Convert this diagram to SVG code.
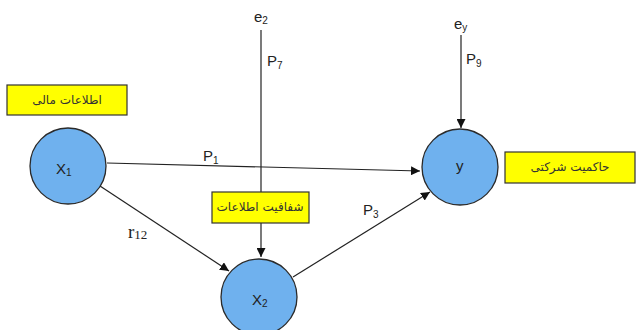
<svg xmlns="http://www.w3.org/2000/svg" width="637" height="330" viewBox="0 0 637 330">
<defs>
<marker id="ah" viewBox="0 0 10 10" refX="10" refY="5" markerWidth="9" markerHeight="9" markerUnits="userSpaceOnUse" orient="auto">
<path d="M0,0 L10,5 L0,10 z" fill="#111"/>
</marker>
<style>
.node{fill:#6fb1ee;stroke:#2a2a2a;stroke-width:1.3}
.box{fill:#ffff00;stroke:#333;stroke-width:1.2}
.edge{stroke:#222;stroke-width:1.2;fill:none}
.lbl{font-family:"Liberation Sans",Arial,sans-serif;font-size:15px;fill:#222}
.sub{font-size:10px}
.ar{font-family:"DejaVu Sans","Noto Sans",sans-serif;font-size:12px;fill:#333}
</style>
</defs>
<rect width="637" height="330" fill="#fff"/>
<g id="connectors">
<line class="edge" x1="107" y1="163" x2="420" y2="171" marker-end="url(#ah)"/>
<line class="edge" x1="100" y1="186" x2="229" y2="271" marker-end="url(#ah)"/>
<line class="edge" x1="293" y1="277" x2="430" y2="192" marker-end="url(#ah)"/>
<line class="edge" x1="261" y1="30" x2="261" y2="192"/>
<line class="edge" x1="261" y1="223" x2="261" y2="257" marker-end="url(#ah)"/>
<line class="edge" x1="461" y1="35" x2="461" y2="128" marker-end="url(#ah)"/>
</g>
<g id="label-p1"><text class="lbl" x="203" y="161">P<tspan class="sub" dy="3">1</tspan></text></g>
<g id="label-r12"><text x="128" y="238" font-family="Liberation Serif,serif" font-size="19" fill="#222">r<tspan font-size="13" dy="1">12</tspan></text></g>
<g id="label-p3"><text class="lbl" x="363" y="215">P<tspan class="sub" dy="3">3</tspan></text></g>
<g id="label-p7"><text class="lbl" x="267" y="66">P<tspan class="sub" dy="3">7</tspan></text></g>
<g id="label-p9"><text class="lbl" x="466" y="64">P<tspan class="sub" dy="3">9</tspan></text></g>
<g id="e2"><text class="lbl" x="254" y="22">e<tspan class="sub" dy="2">2</tspan></text></g>
<g id="ey"><text class="lbl" x="454" y="29">e<tspan class="sub" dy="2">y</tspan></text></g>
<g id="X1">
<circle class="node" cx="68" cy="166" r="38"/>
<text class="lbl" x="56" y="174">X<tspan class="sub" dy="2">1</tspan></text>
</g>
<g id="X2">
<circle class="node" cx="259" cy="297" r="38"/>
<text class="lbl" x="252" y="305">X<tspan class="sub" dy="2">2</tspan></text>
</g>
<g id="Y">
<circle class="node" cx="460" cy="167" r="38"/>
<text class="lbl" x="456" y="171">y</text>
</g>
<g id="box-financial">
<rect class="box" x="7" y="85" width="120" height="30"/>
<text class="ar" x="67" y="104" text-anchor="middle" direction="rtl">اطلاعات مالی</text>
</g>
<g id="box-transparency">
<rect class="box" x="212" y="192" width="97" height="31"/>
<text class="ar" x="260" y="211" text-anchor="middle" direction="rtl">شفافیت اطلاعات</text>
</g>
<g id="box-governance">
<rect class="box" x="505" y="152" width="130" height="31"/>
<text class="ar" x="570" y="171" text-anchor="middle" direction="rtl">حاکمیت شرکتی</text>
</g>
</svg>
